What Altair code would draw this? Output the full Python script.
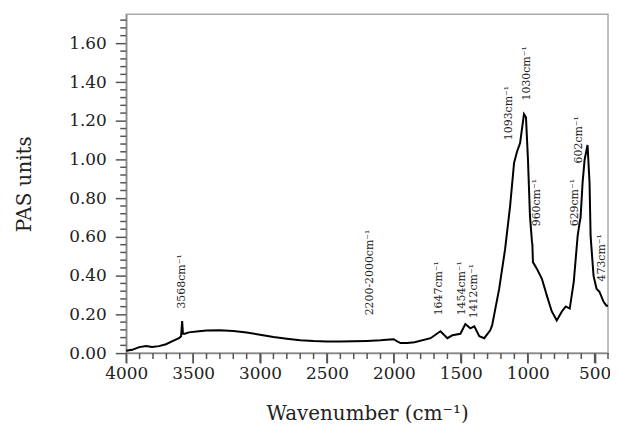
import altair as alt
import pandas as pd

# Spectrum trace (wavenumber cm^-1, PAS units)
wavenumber = [4000, 3955, 3903, 3851, 3807, 3755, 3703, 3658, 3606, 3590, 3582, 3576, 3562,
              3532, 3458, 3400, 3300, 3200, 3100, 3000, 2900, 2800, 2700, 2600, 2500, 2400,
              2300, 2200, 2100, 2030, 2000, 1975, 1950, 1900, 1845,
              1726, 1652, 1600, 1563, 1503, 1466, 1429, 1399, 1362, 1325, 1280, 1266, 1213,
              1169, 1132, 1102, 1080, 1057, 1028, 1013, 998, 983, 968, 965, 961, 931, 894,
              857, 820, 783, 745, 716, 686, 656, 627, 612, 605, 590, 575, 553, 538, 530, 508,
              486, 464, 434, 412, 400]
pas = [0.012, 0.017, 0.031, 0.037, 0.031, 0.036, 0.046, 0.061, 0.077, 0.087, 0.165, 0.100, 0.100,
       0.107, 0.113, 0.117, 0.118, 0.114, 0.106, 0.095, 0.083, 0.074, 0.066, 0.062, 0.060, 0.060,
       0.061, 0.063, 0.066, 0.070, 0.072, 0.060, 0.052, 0.052, 0.056,
       0.077, 0.113, 0.077, 0.092, 0.100, 0.150, 0.128, 0.138, 0.087, 0.077, 0.118, 0.143, 0.333,
       0.537, 0.757, 0.982, 1.040, 1.085, 1.235, 1.218, 0.998, 0.706, 0.573, 0.560, 0.470, 0.435, 0.384,
       0.297, 0.215, 0.169, 0.215, 0.241, 0.230, 0.368, 0.604, 0.675, 0.700, 0.880, 0.998, 1.075, 0.880,
       0.604, 0.399, 0.333, 0.317, 0.266, 0.245, 0.245]

# Peak annotations
ann_labels = ["3568cm⁻¹", "2200-2000cm⁻¹", "1647cm⁻¹", "1454cm⁻¹", "1412cm⁻¹", "1093cm⁻¹",
              "1030cm⁻¹", "960cm⁻¹", "629cm⁻¹", "602cm⁻¹", "473cm⁻¹"]
ann_wn = [3584, 2180, 1659, 1489, 1399, 1139, 1005, 931, 649, 619, 448]
ann_y = [0.23, 0.195, 0.195, 0.195, 0.18, 1.10, 1.305, 0.655, 0.655, 0.98, 0.37]

x_major = [4000, 3500, 3000, 2500, 2000, 1500, 1000, 500]
x_minor = [w for w in range(4000, 399, -100) if w % 500 != 0]
y_major = [0.0, 0.2, 0.4, 0.6, 0.8, 1.0, 1.2, 1.4, 1.6]
y_minor = [round(i * 0.04, 2) for i in range(0, 44) if i % 5 != 0]

W, H = 485, 341
FONT = "DejaVu Serif"

spec = pd.DataFrame({"wn": wavenumber, "pas": pas, "i": list(range(len(pas)))})
ann = pd.DataFrame({"label": ann_labels, "wn": ann_wn, "y": ann_y})
xM = pd.DataFrame({"wn": x_major})
xm = pd.DataFrame({"wn": x_minor})
ym = pd.DataFrame({"pas": y_minor})

xscale = alt.Scale(domain=[400, 4000], reverse=True, nice=False, zero=False)
yscale = alt.Scale(domain=[0, 1.75], nice=False, zero=True)

line = alt.Chart(spec).mark_line(color="black", strokeWidth=2).encode(
    x=alt.X("wn:Q", scale=xscale,
            axis=alt.Axis(values=x_major, format="d", title="Wavenumber (cm⁻¹)",
                          tickSize=10, tickWidth=1.5, tickColor="#555",
                          labelPadding=3, titlePadding=22,
                          grid=False, labelFlush=False)),
    y=alt.Y("pas:Q", scale=yscale,
            axis=alt.Axis(values=y_major, format=".2f", title="PAS units",
                          tickSize=11, tickWidth=1.5, tickColor="#555",
                          labelPadding=9, titlePadding=34, grid=False)),
    order="i:Q",
)

text = alt.Chart(ann).mark_text(angle=270, align="left", baseline="middle",
                                font=FONT, fontSize=11, color="#222").encode(
    x=alt.X("wn:Q", scale=xscale), y=alt.Y("y:Q", scale=yscale), text="label:N")

# explicit tick marks below the x axis (major and minor)
xmajor_r = alt.Chart(xM).mark_rule(color="#555", strokeWidth=1.5).encode(
    x=alt.X("wn:Q", scale=xscale), y=alt.value(H), y2=alt.value(H + 10))
xminor = alt.Chart(xm).mark_rule(color="#555", strokeWidth=1.5).encode(
    x=alt.X("wn:Q", scale=xscale), y=alt.value(H), y2=alt.value(H + 6))
yminor = alt.Chart(ym).mark_rule(color="#555", strokeWidth=1.5).encode(
    y=alt.Y("pas:Q", scale=yscale), x=alt.value(-6), x2=alt.value(0))

chart = alt.layer(line, text, xmajor_r, xminor, yminor).properties(
    width=W, height=H,
    autosize=alt.AutoSizeParams(type="none"),
    padding={"left": 119, "top": 5, "right": 2, "bottom": 73},
).configure_view(stroke="#aaa", strokeWidth=1.5).configure_axis(
    labelFont=FONT, titleFont=FONT, labelFontSize=17, titleFontSize=20,
    titleFontWeight="normal", labelColor="#222", titleColor="#222",
    domainColor="#888", domainWidth=1.5
)

chart.save("out.html", embed_options={"renderer": "svg", "actions": False})
